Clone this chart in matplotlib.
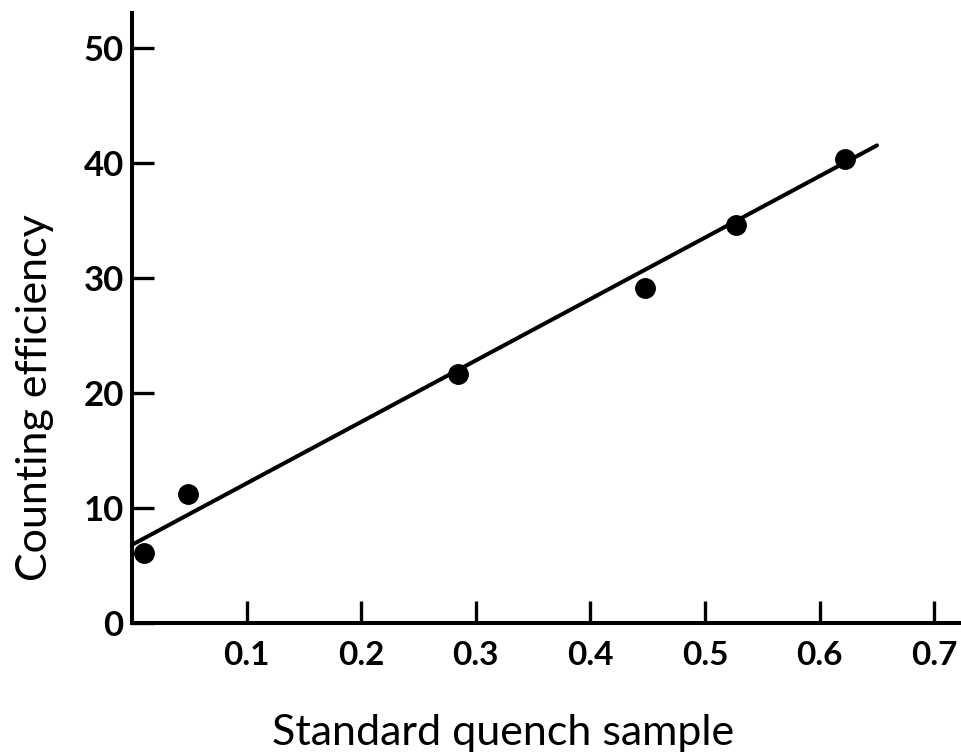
import matplotlib
matplotlib.use("Agg")
import matplotlib.pyplot as plt

# data
sample_x = [0.010, 0.049, 0.284, 0.448, 0.527, 0.622]
efficiency_y = [6.1, 11.2, 21.6, 29.1, 34.6, 40.3]
fit_x = [0.0, 0.65]
fit_y = [6.8, 41.5]
x_ticks = [0.1, 0.2, 0.3, 0.4, 0.5, 0.6, 0.7]
x_tick_labels = ["0.1", "0.2", "0.3", "0.4", "0.5", "0.6", "0.7"]
y_ticks = [0, 10, 20, 30, 40, 50]
y_tick_labels = ["0", "10", "20", "30", "40", "50"]

plt.rcParams['font.family'] = ['Lato', 'DejaVu Sans']

fig = plt.figure(figsize=(9.61, 7.54), dpi=100)
ax = fig.add_axes([0.1374, 0.1737, 0.8616, 0.809])

ax.plot(fit_x, fit_y, color='black', lw=2.9, solid_capstyle='round', zorder=2)
ax.plot(sample_x, efficiency_y, 'o', color='black', markersize=14, zorder=3)

ax.set_xlim(0, 0.7225)
ax.set_ylim(0, 53.0)

for side in ['top', 'right']:
    ax.spines[side].set_visible(False)
for side in ['left', 'bottom']:
    ax.spines[side].set_linewidth(2.9)

ax.set_xticks(x_ticks)
ax.set_xticklabels(x_tick_labels)
ax.set_yticks(y_ticks)
ax.set_yticklabels(y_tick_labels)
ax.tick_params(direction='in', length=16, width=2.4)
ax.tick_params(axis='x', labelsize=24, pad=13)
ax.tick_params(axis='y', labelsize=25, pad=6)
for lab in ax.get_xticklabels() + ax.get_yticklabels():
    lab.set_fontweight('bold')

ax.set_xlabel("Standard quench sample", fontsize=31, va='baseline')
ax.xaxis.set_label_coords(0.448, -0.2)
ax.set_ylabel("Counting efficiency", fontsize=31, va='baseline')
ax.yaxis.set_label_coords(-0.1027, 0.369)

fig.savefig("out.png", dpi=100)
